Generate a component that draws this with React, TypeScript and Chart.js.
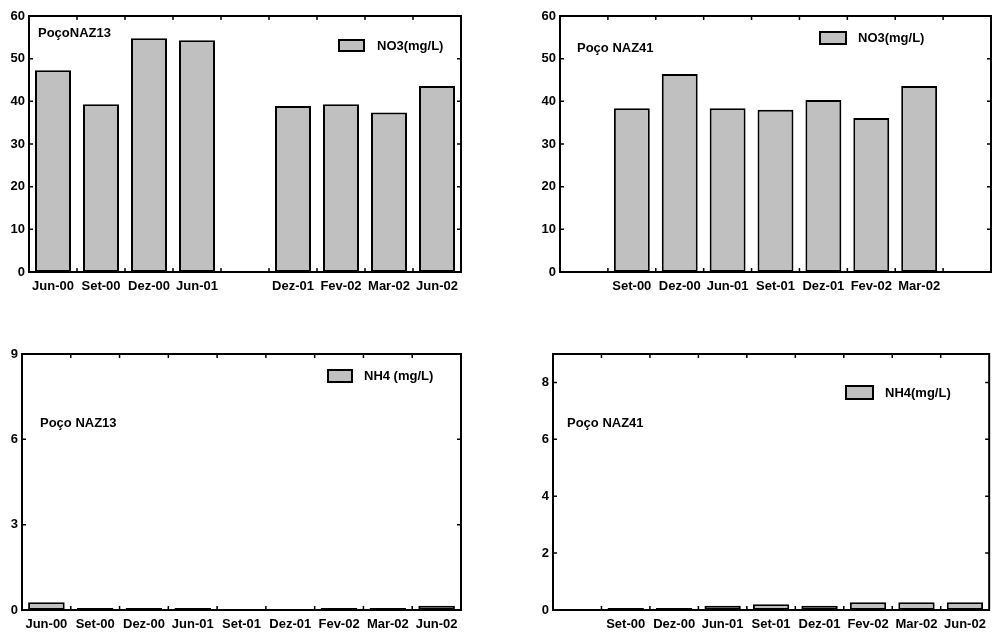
import React, { useEffect, useRef } from 'react';
import { Chart, registerables } from 'chart.js';

Chart.register(...registerables);

const FONT = '"Liberation Sans", Arial, sans-serif';

// ---- data ----
const no3Naz13Labels = ['Jun-00', 'Set-00', 'Dez-00', 'Jun-01', '', 'Dez-01', 'Fev-02', 'Mar-02', 'Jun-02'];
const no3Naz13Values = [47.3, 39.3, 54.8, 54.3, null, 38.9, 39.3, 37.4, 43.6];

const no3Naz41Labels = ['', 'Set-00', 'Dez-00', 'Jun-01', 'Set-01', 'Dez-01', 'Fev-02', 'Mar-02', ''];
const no3Naz41Values = [null, 38.4, 46.4, 38.4, 38.0, 40.3, 36.1, 43.6, null];

const nh4Naz13Labels = ['Jun-00', 'Set-00', 'Dez-00', 'Jun-01', 'Set-01', 'Dez-01', 'Fev-02', 'Mar-02', 'Jun-02'];
const nh4Naz13Values = [0.27, 0.07, 0.07, 0.07, null, null, 0.07, 0.07, 0.15];

const nh4Naz41Labels = ['', 'Set-00', 'Dez-00', 'Jun-01', 'Set-01', 'Dez-01', 'Fev-02', 'Mar-02', 'Jun-02'];
const nh4Naz41Values = [null, 0.07, 0.07, 0.15, 0.2, 0.15, 0.27, 0.27, 0.27];

const BAR_FILL = '#c0c0c0';

type Panel = {
  left: number; top: number; width: number; height: number;
  yWidth: number; xHeight: number; padTop: number; padRight: number;
  labels: string[]; values: (number | null)[]; series: string;
  yMax: number; yStep: number;
  title: { text: string; x: number; y: number };
  legend: { x: number; y: number; w: number; h: number; textX: number };
};

const panels: Panel[] = [
  {
    left: 0, top: 0, width: 480, height: 300, yWidth: 29, xHeight: 28, padTop: 16, padRight: 19,
    labels: no3Naz13Labels, values: no3Naz13Values, series: 'NO3(mg/L)', yMax: 60, yStep: 10,
    title: { text: 'PoçoNAZ13', x: 38, y: 33 },
    legend: { x: 339, y: 40, w: 25, h: 11, textX: 377 },
  },
  {
    left: 500, top: 0, width: 493, height: 300, yWidth: 60, xHeight: 28, padTop: 16, padRight: 2,
    labels: no3Naz41Labels, values: no3Naz41Values, series: 'NO3(mg/L)', yMax: 60, yStep: 10,
    title: { text: 'Poço NAZ41', x: 77, y: 48 },
    legend: { x: 320, y: 32, w: 26, h: 12, textX: 358 },
  },
  {
    left: 0, top: 330, width: 480, height: 302, yWidth: 22, xHeight: 22, padTop: 24, padRight: 19,
    labels: nh4Naz13Labels, values: nh4Naz13Values, series: 'NH4 (mg/L)', yMax: 9, yStep: 3,
    title: { text: 'Poço NAZ13', x: 40, y: 93 },
    legend: { x: 328, y: 40, w: 24, h: 12, textX: 364 },
  },
  {
    left: 500, top: 330, width: 493, height: 302, yWidth: 53, xHeight: 22, padTop: 24, padRight: 2,
    labels: nh4Naz41Labels, values: nh4Naz41Values, series: 'NH4(mg/L)', yMax: 9, yStep: 2,
    title: { text: 'Poço NAZ41', x: 67, y: 93 },
    legend: { x: 346, y: 56, w: 27, h: 13, textX: 385 },
  },
];

function makeDecorPlugin(p: Panel) {
  return {
    id: 'decor',
    afterDatasetsDraw(chart: any) {
      const { ctx, chartArea: a, scales } = chart;
      ctx.save();
      // frame
      ctx.strokeStyle = '#000';
      ctx.lineWidth = 2;
      ctx.strokeRect(a.left, a.top, a.right - a.left, a.bottom - a.top);
      // inward ticks
      ctx.lineWidth = 1.5;
      ctx.beginPath();
      const ys = scales.y;
      ys.ticks.forEach((_t: any, i: number) => {
        const py = ys.getPixelForTick(i);
        ctx.moveTo(a.left, py); ctx.lineTo(a.left + 4, py);
        ctx.moveTo(a.right - 4, py); ctx.lineTo(a.right, py);
      });
      const xs = scales.x;
      for (let i = 0; i < xs.ticks.length - 1; i++) {
        const px = (xs.getPixelForTick(i) + xs.getPixelForTick(i + 1)) / 2;
        ctx.moveTo(px, a.bottom); ctx.lineTo(px, a.bottom - 4);
        ctx.moveTo(px, a.top); ctx.lineTo(px, a.top + 4);
      }
      ctx.stroke();
      // title
      ctx.fillStyle = '#000';
      ctx.font = `bold 13px ${FONT}`;
      ctx.textBaseline = 'middle';
      ctx.textAlign = 'left';
      ctx.fillText(p.title.text, p.title.x, p.title.y);
      // legend
      const ds = chart.data.datasets[0];
      const L = p.legend;
      ctx.fillStyle = ds.backgroundColor;
      ctx.fillRect(L.x, L.y, L.w, L.h);
      ctx.lineWidth = 2;
      ctx.strokeStyle = ds.borderColor;
      ctx.strokeRect(L.x, L.y, L.w, L.h);
      ctx.fillStyle = '#000';
      ctx.fillText(ds.label, L.textX, L.y + L.h / 2 + 0.5);
      ctx.restore();
    },
  };
}

function BarPanel({ p }: { p: Panel }) {
  const ref = useRef<HTMLCanvasElement | null>(null);
  useEffect(() => {
    if (!ref.current) return;
    const chart = new Chart(ref.current, {
      type: 'bar',
      data: {
        labels: p.labels,
        datasets: [
          {
            label: p.series,
            data: p.values as any,
            backgroundColor: BAR_FILL,
            borderColor: '#000',
            borderWidth: 2,
            borderSkipped: false,
            categoryPercentage: 1,
            barPercentage: 0.75,
          },
        ],
      },
      options: {
        responsive: false,
        animation: false,
        layout: { padding: { top: p.padTop, right: p.padRight, left: 0, bottom: 0 } },
        plugins: { legend: { display: false }, tooltip: { enabled: false }, title: { display: false } },
        scales: {
          x: {
            type: 'category',
            offset: true,
            grid: { display: false, drawTicks: false },
            border: { display: false },
            ticks: {
              autoSkip: false,
              maxRotation: 0,
              minRotation: 0,
              padding: 7,
              color: '#000',
              font: { family: FONT, size: 13, weight: 'bold' },
            },
            afterFit: (s: any) => { s.height = p.xHeight; },
          },
          y: {
            min: 0,
            max: p.yMax,
            grid: { display: false, drawTicks: false },
            border: { display: false },
            ticks: {
              stepSize: p.yStep,
              includeBounds: false,
              padding: 4,
              color: '#000',
              font: { family: FONT, size: 13, weight: 'bold' },
            },
            afterFit: (s: any) => { s.width = p.yWidth; },
          },
        },
      },
      plugins: [makeDecorPlugin(p)],
    } as any);
    return () => chart.destroy();
  }, [p]);
  return (
    <canvas
      ref={ref}
      width={p.width}
      height={p.height}
      style={{ position: 'absolute', left: p.left, top: p.top, width: p.width, height: p.height }}
    />
  );
}

export default function App() {
  return (
    <div style={{ position: 'fixed', left: 0, top: 0, width: 993, height: 632, background: '#fff', overflow: 'hidden' }}>
      {panels.map((p, i) => (
        <BarPanel key={i} p={p} />
      ))}
    </div>
  );
}
